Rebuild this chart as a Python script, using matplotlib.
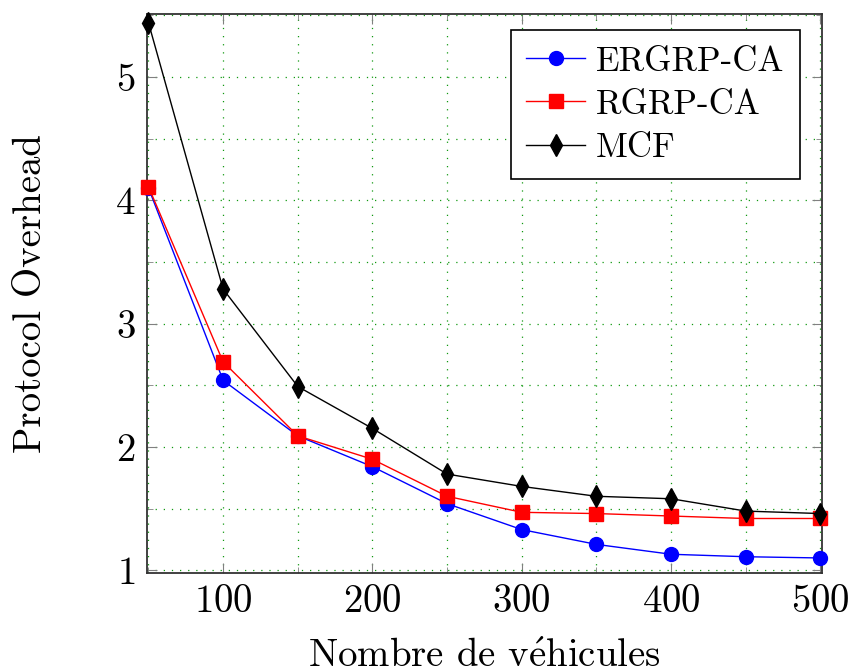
import numpy as np
import matplotlib
matplotlib.use("Agg")
import matplotlib.pyplot as plt
from matplotlib.ticker import MultipleLocator

plt.rcParams['font.family'] = ['cmr10', 'DejaVu Serif']
plt.rcParams['mathtext.fontset'] = 'cm'
plt.rcParams['axes.formatter.use_mathtext'] = True

# data
vehicles = [50, 100, 150, 200, 250, 300, 350, 400, 450, 500]
ergrp_ca = [4.10, 2.54, 2.09, 1.84, 1.54, 1.33, 1.21, 1.13, 1.11, 1.10]
rgrp_ca = [4.11, 2.69, 2.09, 1.90, 1.60, 1.47, 1.46, 1.44, 1.42, 1.42]
mcf = [5.44, 3.28, 2.49, 2.15, 1.78, 1.68, 1.60, 1.58, 1.48, 1.46]

fig = plt.figure(figsize=(8.48, 6.68), dpi=100)
ax = fig.add_axes([0.1733, 0.1422, 0.7960, 0.8368])

ax.plot(vehicles, ergrp_ca, color='blue', marker='o', markersize=10, lw=1.0,
        label='ERGRP-CA', clip_on=False, zorder=3)
ax.plot(vehicles, rgrp_ca, color='red', marker='s', markersize=10, lw=1.0,
        label='RGRP-CA', clip_on=False, zorder=4)
ax.plot(vehicles, mcf, color='black', marker='d', markersize=11, lw=1.0,
        label='MCF', clip_on=False, zorder=5)

ax.set_xlim(49, 501)
ax.set_ylim(0.978, 5.51)
ax.xaxis.set_major_locator(MultipleLocator(100))
ax.xaxis.set_minor_locator(MultipleLocator(50))
ax.yaxis.set_major_locator(MultipleLocator(1))
ax.yaxis.set_minor_locator(MultipleLocator(0.5))

ax.grid(which='both', color='#119911', linestyle=(0, (1, 5.5)), linewidth=0.9)
ax.set_axisbelow(True)

ax.tick_params(which='both', direction='in', top=True, right=True,
               color='gray', labelsize=28)
ax.tick_params(which='major', length=7, pad=8)
ax.tick_params(which='minor', length=4)
for s in ax.spines.values():
    s.set_linewidth(1.3)
    s.set_color('#333333')

ax.set_xlabel(r'Nombre de v$\mathrm{\acute{e}}$hicules', fontsize=28, labelpad=14)
ax.set_ylabel('Protocol Overhead', fontsize=28, labelpad=48)

leg = ax.legend(loc='upper right', fontsize=25, fancybox=False,
                edgecolor='black', framealpha=1, borderpad=0.45,
                handlelength=1.7, handletextpad=0.3, labelspacing=0.33,
                borderaxespad=0, bbox_to_anchor=(0.967, 0.971))
leg.get_frame().set_linewidth(1.2)

fig.savefig('out.png', dpi=100)
